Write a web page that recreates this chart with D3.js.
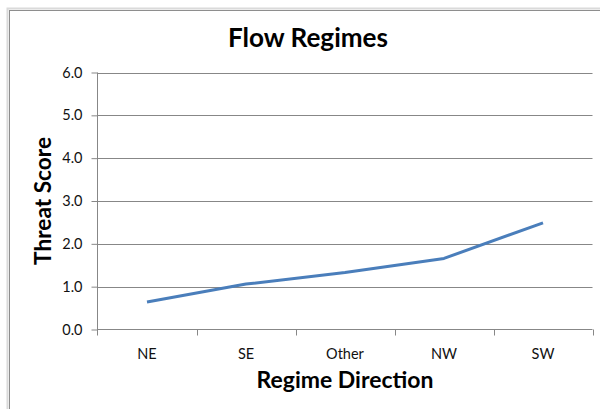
<!DOCTYPE html>
<html><head><meta charset="utf-8">
<script src="https://cdn.jsdelivr.net/npm/d3@7"></script>
<style>body{margin:0;background:#fff}svg{display:block}</style>
</head><body>
<script>
const categories = ["NE", "SE", "Other", "NW", "SW"];
const values = [0.64, 1.06, 1.33, 1.66, 2.49];
const yTicks = [0, 1, 2, 3, 4, 5, 6];
const title = "Flow Regimes";
const xTitle = "Regime Direction";
const yTitle = "Threat Score";

const W = 600, H = 409;
const font = "Lato, 'Open Sans', sans-serif";
const svg = d3.select("body").append("svg").attr("width", W).attr("height", H);

// frame
svg.append("rect").attr("x", 7.5).attr("y", 8.5).attr("width", 600).attr("height", 410)
  .attr("fill", "none").attr("stroke", "#dadada").attr("stroke-width", 2);
svg.append("rect").attr("x", 9.5).attr("y", 10.5).attr("width", 600).attr("height", 410)
  .attr("fill", "#fff").attr("stroke", "#8e8e8e").attr("stroke-width", 1);

const x = d3.scaleBand().domain(categories).range([97.5, 592.5]).padding(0);
const y = d3.scaleLinear().domain([0, 6]).range([329.5, 72.5]);
const gridColor = "#878787";

// gridlines
svg.append("g").selectAll("line").data(yTicks.slice(1)).join("line")
  .attr("x1", 97.5).attr("x2", 592.5)
  .attr("y1", d => Math.round(y(d)) + 0.5).attr("y2", d => Math.round(y(d)) + 0.5)
  .attr("stroke", gridColor).attr("stroke-width", 1);

// y axis
const yAxis = svg.append("g").attr("transform", "translate(97.5,0)")
  .call(d3.axisLeft(y).tickValues(yTicks).tickFormat(d3.format(".1f")).tickSize(6).tickPadding(9));
yAxis.select(".domain").attr("stroke", gridColor).attr("d", `M0,${y(6)}V${y(0) + 6}`);
yAxis.selectAll(".tick line").attr("stroke", gridColor);
yAxis.selectAll(".tick text").attr("font-family", font).attr("font-size", 14.5).attr("fill", "#111");

// x axis
const xAxis = svg.append("g").attr("transform", `translate(0,${y(0)})`)
  .call(d3.axisBottom(x).tickSize(0).tickPadding(19));
xAxis.select(".domain").attr("stroke", gridColor).attr("d", `M97.5,0H592.5`);
xAxis.selectAll(".tick text").attr("font-family", font).attr("font-size", 14.5).attr("fill", "#111");
const edges = categories.map(c => x(c) + x.bandwidth());
svg.append("g").selectAll("line").data(edges).join("line")
  .attr("x1", d => Math.round(d) + 0.5).attr("x2", d => Math.round(d) + 0.5)
  .attr("y1", y(0)).attr("y2", y(0) + 6).attr("stroke", gridColor);

// line
const line = d3.line().x((d, i) => x(categories[i]) + x.bandwidth() / 2).y(d => y(d));
svg.append("path").datum(values).attr("d", line).attr("fill", "none")
  .attr("stroke", "#4a7ebb").attr("stroke-width", 3).attr("stroke-linejoin", "round");

function fitText(sel, target) {
  const w = sel.node().getComputedTextLength();
  const fs = parseFloat(sel.attr("font-size"));
  sel.attr("font-size", fs * target / w);
}
// titles
const t = svg.append("text").text(title).attr("x", 308).attr("y", 46.5)
  .attr("text-anchor", "middle").attr("font-family", font).attr("font-weight", "bold")
  .attr("font-size", 24).attr("fill", "#000");
fitText(t, 160);
const xt = svg.append("text").text(xTitle).attr("x", 345).attr("y", 387.5)
  .attr("text-anchor", "middle").attr("font-family", font).attr("font-weight", "bold")
  .attr("font-size", 20).attr("fill", "#000");
fitText(xt, 177);
const yt = svg.append("text").text(yTitle).attr("transform", "translate(51,201) rotate(-90)")
  .attr("text-anchor", "middle").attr("font-family", font).attr("font-weight", "bold")
  .attr("font-size", 20).attr("fill", "#000");
fitText(yt, 128);
</script>
</body></html>
